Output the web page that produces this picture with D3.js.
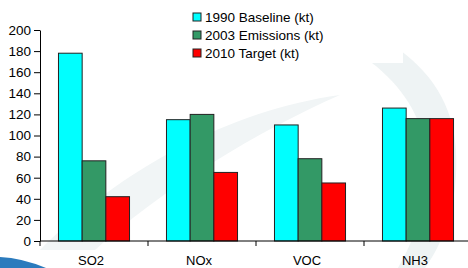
<!DOCTYPE html>
<html>
<head>
<meta charset="utf-8">
<script src="https://cdn.jsdelivr.net/npm/d3@7"></script>
<style>
  html, body { margin: 0; padding: 0; background: #fff; }
  svg { display: block; font-family: "Liberation Sans", Arial, sans-serif; }
</style>
</head>
<body>
<svg id="chart"></svg>
<script>
const width = 468, height = 268;

const categories = ["SO2", "NOx", "VOC", "NH3"];
const seriesNames = ["1990 Baseline (kt)", "2003 Emissions (kt)", "2010 Target (kt)"];
const seriesColors = ["#00ffff", "#339966", "#ff0000"];
const baseline1990 = [178, 115, 110, 126];
const emissions2003 = [76, 120, 78, 116];
const target2010 = [42, 65, 55, 116];
const yTicks = [0, 20, 40, 60, 80, 100, 120, 140, 160, 180, 200];

const seriesValues = [baseline1990, emissions2003, target2010];
const rows = categories.map((c, i) => ({ cat: c, values: seriesValues.map(s => s[i]) }));

const margin = { top: 30, right: -4, bottom: 27, left: 40 };

const svg = d3.select("#chart")
    .attr("width", width)
    .attr("height", height);

// faint watermark swoosh in the background
const deco = svg.append("g");
deco.append("path")
    .attr("d", "M250,6 C360,8 452,60 456,150 C459,205 442,245 425,268 L398,268 C420,230 430,190 426,150 C416,80 350,35 250,6 Z")
    .attr("fill", "#eef3f4");
deco.append("path")
    .attr("d", "M40,250 C120,170 230,110 340,95 C260,130 160,190 95,250 Z")
    .attr("fill", "#f1f5f6");
deco.append("path")
    .attr("d", "M0,257 Q22,258 46,268 L0,268 Z")
    .attr("fill", "#2b7bbd");

const x = d3.scaleBand()
    .domain(categories)
    .range([margin.left, width - margin.right])
    .padding(0);

const xSub = d3.scaleBand()
    .domain(d3.range(seriesNames.length))
    .range([0, x.bandwidth()])
    .paddingInner(0)
    .paddingOuter(0.78);

const y = d3.scaleLinear()
    .domain([0, 200])
    .range([height - margin.bottom, margin.top]);

// bars
const groups = svg.append("g")
    .selectAll("g")
    .data(rows)
    .join("g")
    .attr("transform", d => `translate(${x(d.cat)},0)`);

groups.selectAll("rect")
    .data(d => d.values.map((v, i) => ({ v, i })))
    .join("rect")
    .attr("x", d => xSub(d.i))
    .attr("y", d => y(d.v))
    .attr("width", xSub.bandwidth())
    .attr("height", d => y(0) - y(d.v))
    .attr("fill", d => seriesColors[d.i])
    .attr("stroke", "#222")
    .attr("stroke-width", 1);

// y axis
const yAxis = svg.append("g")
    .attr("transform", `translate(${margin.left},0)`)
    .call(d3.axisLeft(y).tickValues(yTicks).tickSize(6).tickPadding(3).tickSizeOuter(0));
yAxis.selectAll("text").attr("font-size", 13.5).attr("fill", "#000").attr("font-family", "Liberation Sans, Arial, sans-serif");
yAxis.selectAll("line, path").attr("stroke", "#000");

// x axis
const xAxis = svg.append("g")
    .attr("transform", `translate(0,${y(0)})`);
xAxis.append("line")
    .attr("x1", margin.left).attr("x2", width)
    .attr("stroke", "#000");
xAxis.selectAll(".tk")
    .data(categories)
    .join("line")
    .attr("x1", d => x(d)).attr("x2", d => x(d))
    .attr("y1", 0).attr("y2", 5)
    .attr("stroke", "#000");
xAxis.selectAll(".lbl")
    .data(categories)
    .join("text")
    .attr("x", d => x(d) + x.bandwidth() / 2 - 3)
    .attr("y", 24)
    .attr("text-anchor", "middle")
    .attr("font-size", 13)
    .text(d => d);

// legend
const legend = svg.append("g");
legend.append("rect")
    .attr("x", 185).attr("y", 5)
    .attr("width", 218).attr("height", 58)
    .attr("fill", "#fff");
const items = legend.selectAll(".item")
    .data(seriesNames)
    .join("g")
    .attr("transform", (d, i) => `translate(193,${17 + i * 18})`);
items.append("rect")
    .attr("x", 0).attr("y", -4)
    .attr("width", 8).attr("height", 8)
    .attr("fill", (d, i) => seriesColors[i])
    .attr("stroke", "#222");
items.append("text")
    .attr("x", 12).attr("y", 5)
    .attr("font-size", 13.5)
    .text(d => d);
</script>
</body>
</html>
